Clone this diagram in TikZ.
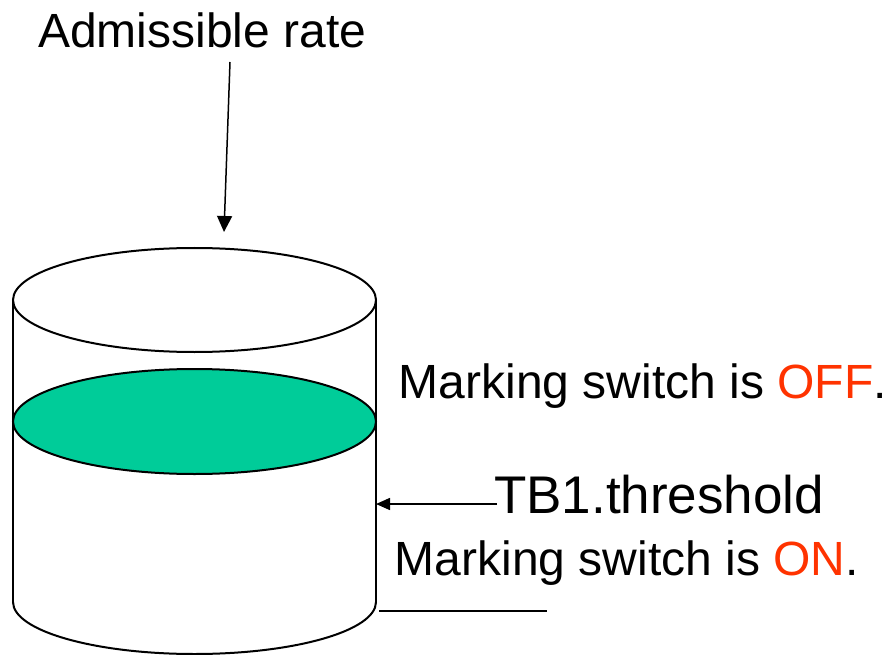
\documentclass[tikz,border=0pt]{standalone}
\usepackage{fontspec}
\setmainfont{Liberation Sans}
\usetikzlibrary{arrows.meta}
\definecolor{fluid}{HTML}{00CC99}
\definecolor{alert}{HTML}{FF3300}
\tikzset{
  wall/.style={line width=2pt},
  pointer/.style={line width=1.5pt,-{Triangle[length=16pt,width=15pt]}},
  smallpointer/.style={line width=1.5pt,-{Triangle[length=14pt,width=12pt]}},
  label/.style={inner sep=0pt,anchor=base west},
}
\newcommand{\bigtext}{\fontsize{48}{56}\selectfont}
\begin{document}
\begin{tikzpicture}[x=1pt,y=1pt]
\useasboundingbox (0,0) rectangle (890,654);

% bucket: walls, rim, fluid level and rounded base
\draw[wall] (13,354) -- (13,52);
\draw[wall] (376,354) -- (376,52);
\draw[wall,fill=white] (194.5,354) ellipse[x radius=181.5,y radius=52];
\draw[wall,fill=fluid] (194.5,232.5) ellipse[x radius=181.5,y radius=52.5];
\draw[wall] (13,52) arc[start angle=180,end angle=360,x radius=181.5,y radius=52];

% captions
\node[label] (rate) at (38,606) {\bigtext Admissible rate};
\node[label] (off) at (398.5,256) {\bigtext Marking switch is \textcolor{alert}{OFF}.};
\node[label] (tb) at (494,141) {\fontsize{53}{62}\selectfont TB1.threshold};
\node[label] (on) at (394.5,79) {\bigtext Marking switch is \textcolor{alert}{ON}.};

% arrow endpoints
\coordinate (ratetail) at (230,592);
\coordinate (ratehead) at (224,422);
\coordinate (thrtail) at (497,150);
\coordinate (thrhead) at (376,150);
\coordinate (basel) at (379,43);
\coordinate (baser) at (547,43);

\draw[pointer] (ratetail) -- (ratehead);
\draw[smallpointer] (thrtail) -- (thrhead);
\draw[line width=1.5pt] (basel) -- (baser);
\end{tikzpicture}
\end{document}
